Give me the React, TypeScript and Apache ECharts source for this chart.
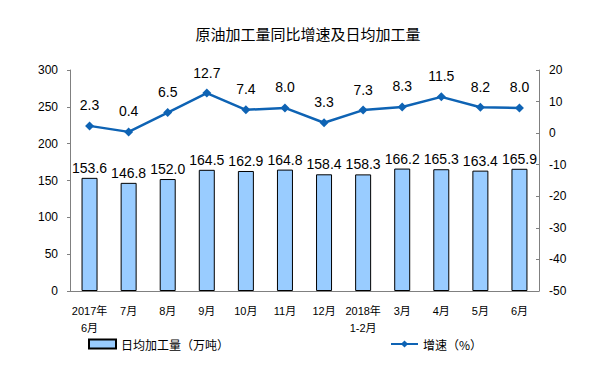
import React, { useEffect, useRef } from "react";
import * as echarts from "echarts";

const categories = ["2017年\n6月", "7月", "8月", "9月", "10月", "11月", "12月", "2018年\n1-2月", "3月", "4月", "5月", "6月"];
const dailyOutput = [153.6, 146.8, 152.0, 164.5, 162.9, 164.8, 158.4, 158.3, 166.2, 165.3, 163.4, 165.9];
const growth = [2.3, 0.4, 6.5, 12.7, 7.4, 8.0, 3.3, 7.3, 8.3, 11.5, 8.2, 8.0];

const FONT = "'Liberation Sans', Arial, 'Noto Sans CJK SC', sans-serif";

export default function App() {
  const ref = useRef<HTMLDivElement>(null);
  useEffect(() => {
    const chart = echarts.init(ref.current!, null, { renderer: "svg" });
    chart.setOption({
      animation: false,
      backgroundColor: "#ffffff",
      textStyle: { fontFamily: FONT },
      title: {
        text: "原油加工量同比增速及日均加工量",
        left: "center",
        top: 21,
        textStyle: { fontSize: 15, fontWeight: "normal", color: "#000", fontFamily: "'Noto Sans CJK SC', sans-serif" },
      },
      grid: { left: 70, right: 77, top: 70, bottom: 91 },
      legend: {
        bottom: 27,
        left: 83,
        itemGap: 161,
        itemWidth: 27,
        itemHeight: 9,
        textStyle: { fontSize: 12, color: "#000", fontFamily: "'Noto Sans CJK SC', sans-serif" },
        data: [
          { name: "日均加工量（万吨）", icon: "rect" },
          { name: "增速（%）" },
        ],
      },
      xAxis: {
        type: "category",
        data: categories,
        axisLine: { lineStyle: { color: "#808080" } },
        axisTick: { inside: true, length: 4, lineStyle: { color: "#808080" } },
        axisLabel: { color: "#000", fontSize: 11, margin: 11, lineHeight: 17, interval: 0 },
      },
      yAxis: [
        {
          type: "value",
          min: 0,
          max: 300,
          interval: 50,
          splitLine: { show: false },
          axisLine: { show: true, lineStyle: { color: "#808080" } },
          axisTick: { show: true, length: 3, lineStyle: { color: "#808080" } },
          axisLabel: { color: "#000", fontSize: 12, margin: 12 },
        },
        {
          type: "value",
          min: -50,
          max: 20,
          interval: 10,
          splitLine: { show: false },
          axisLine: { show: true, lineStyle: { color: "#808080" } },
          axisTick: { show: true, inside: true, length: 3, lineStyle: { color: "#808080" } },
          axisLabel: { color: "#000", fontSize: 12, margin: 10 },
        },
      ],
      series: [
        {
          name: "日均加工量（万吨）",
          type: "bar",
          yAxisIndex: 0,
          data: dailyOutput,
          barWidth: 16,
          itemStyle: { color: "#99CCFF", borderColor: "#000", borderWidth: 1 },
          label: {
            show: true,
            position: "top",
            distance: 3,
            color: "#000",
            fontSize: 14,
            formatter: (p: any) => p.value.toFixed(1),
          },
        },
        {
          name: "增速（%）",
          type: "line",
          yAxisIndex: 1,
          data: growth,
          symbol: "diamond",
          symbolSize: 9,
          lineStyle: { color: "#0E63B4", width: 2.5 },
          itemStyle: { color: "#0E63B4" },
          label: {
            show: true,
            position: "top",
            distance: 9,
            color: "#000",
            fontSize: 14,
            formatter: (p: any) => p.value.toFixed(1),
          },
        },
      ],
    });
    return () => chart.dispose();
  }, []);
  return <div ref={ref} style={{ position: "absolute", left: 0, top: 0, width: 616, height: 382 }} />;
}
